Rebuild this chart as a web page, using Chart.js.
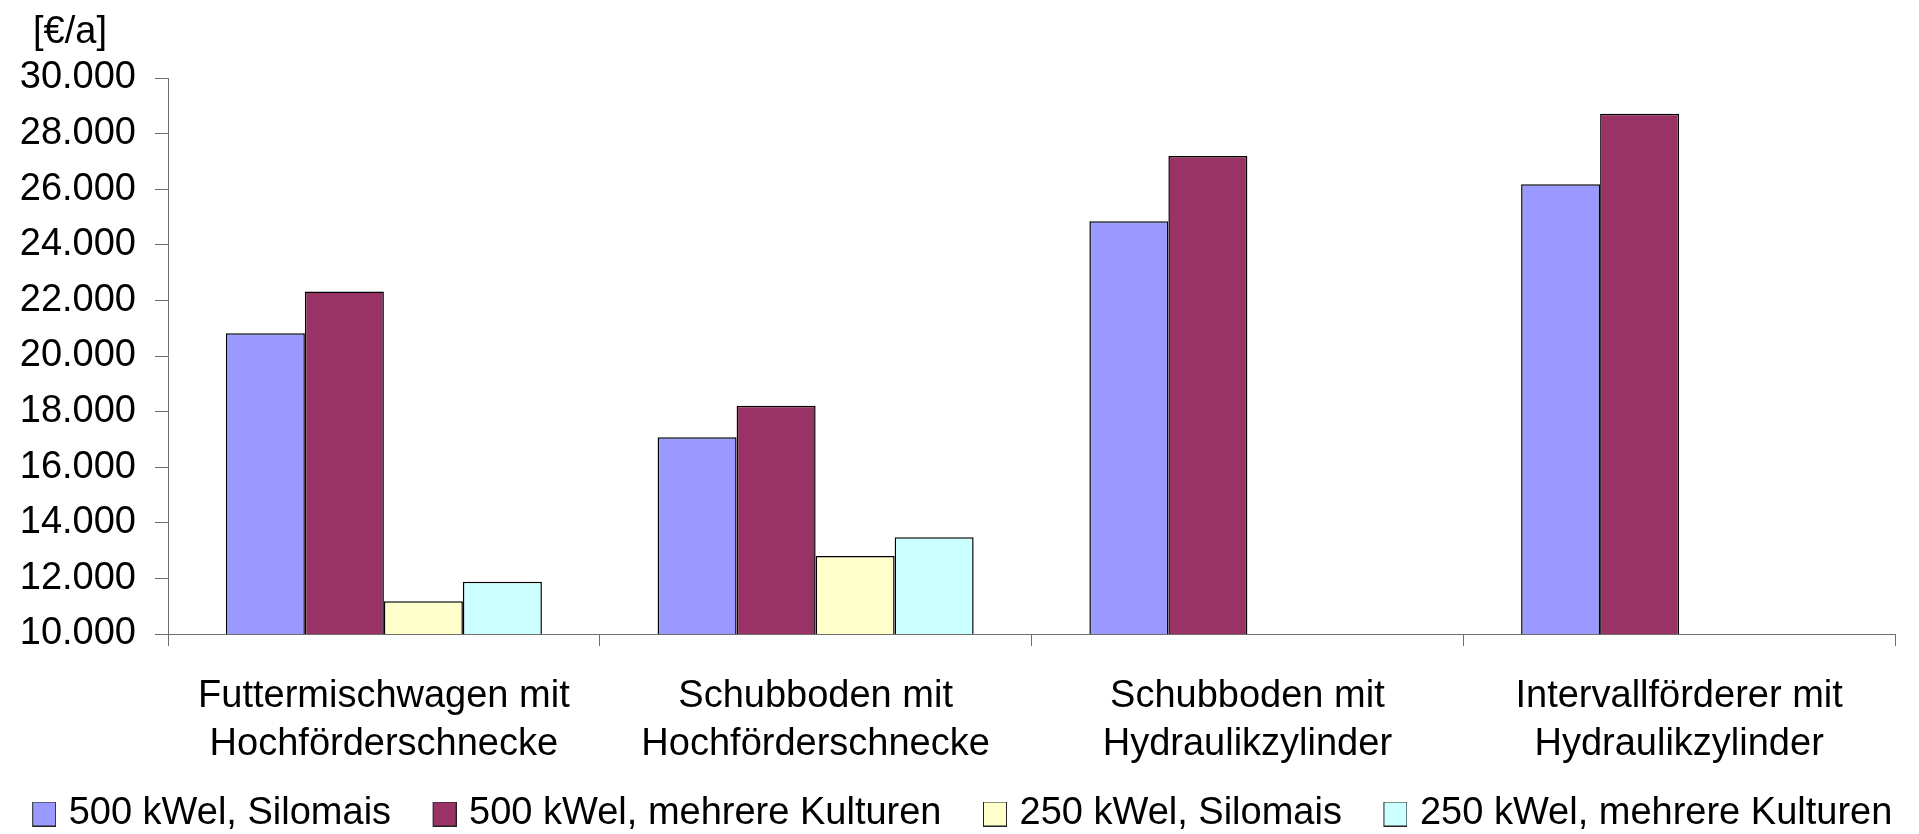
<!DOCTYPE html>
<html lang="de">
<head>
<meta charset="utf-8">
<title>Kosten der Beschickungssysteme</title>
<script src="https://cdn.jsdelivr.net/npm/chart.js@4/dist/chart.umd.min.js"></script>
<style>
  html, body { margin: 0; padding: 0; background: #ffffff; overflow: hidden; }
  #chart { display: block; }
</style>
</head>
<body>
<canvas id="chart" width="1919" height="834"></canvas>
<script>
// Beschickungssysteme (Kategorien, zweizeilig beschriftet)
const categories = [
  ['Futtermischwagen mit', 'Hochförderschnecke'],
  ['Schubboden mit', 'Hochförderschnecke'],
  ['Schubboden mit', 'Hydraulikzylinder'],
  ['Intervallförderer mit', 'Hydraulikzylinder']
];

// Jahreskosten in €/a je Anlagenvariante
const kwel500Silomais = [20820, 17080, 24850, 26180];
const kwel500Kulturen = [22320, 18210, 27190, 28710];
const kwel250Silomais = [11180, 12810, null, null];
const kwel250Kulturen = [11880, 13480, null, null];

const seriesNames = [
  '500 kWel, Silomais',
  '500 kWel, mehrere Kulturen',
  '250 kWel, Silomais',
  '250 kWel, mehrere Kulturen'
];
const seriesColors = ['#9999ff', '#993366', '#ffffcc', '#ccffff'];

// Werteachse
const yMin = 10000;
const yMax = 30000;
const yStep = 2000;
const yUnit = '[€/a]';

const FONT = '"Liberation Sans", Arial, sans-serif';
const AXIS_GREY = '#6e6e6e';

function formatDe(v) {
  return String(v).replace(/\B(?=(\d{3})+(?!\d))/g, '.');
}

// Legend symbols: a bordered square sitting at the right end of a
// transparent strip, so the square ends just before its label
function makeSwatch(color) {
  const c = document.createElement('canvas');
  c.width = 56; c.height = 25;
  const g = c.getContext('2d');
  g.fillStyle = color;
  g.fillRect(32.5, 0.5, 23, 24);
  g.strokeStyle = '#222';
  g.lineWidth = 1;
  g.strokeRect(32.5, 0.5, 23, 24);
  return c;
}
const swatches = seriesColors.map(makeSwatch);

// Unit label above the value axis
const unitLabel = {
  id: 'unitLabel',
  afterDraw(chart) {
    const ctx = chart.ctx;
    ctx.save();
    ctx.font = '38px ' + FONT;
    ctx.fillStyle = '#000';
    ctx.textAlign = 'left';
    ctx.textBaseline = 'alphabetic';
    ctx.fillText(yUnit, 33, 43);
    ctx.restore();
  }
};

const seriesValues = [kwel500Silomais, kwel500Kulturen, kwel250Silomais, kwel250Kulturen];

new Chart(document.getElementById('chart'), {
  type: 'bar',
  data: {
    labels: categories,
    datasets: seriesValues.map((vals, i) => ({
      label: seriesNames[i],
      data: vals,
      backgroundColor: seriesColors[i],
      borderColor: '#000',
      borderWidth: 1.5,
      yAxisID: 'y'
    }))
  },
  options: {
    responsive: false,
    devicePixelRatio: 1,
    animation: false,
    layout: { padding: { left: -20, right: 0, top: 78, bottom: -9 } },
    datasets: {
      bar: { categoryPercentage: 0.732, barPercentage: 1 }
    },
    scales: {
      x: {
        grid: {
          offset: true,
          drawOnChartArea: false,
          drawTicks: true,
          tickLength: 12,
          color: AXIS_GREY,
          lineWidth: 1
        },
        border: { color: AXIS_GREY, width: 1 },
        ticks: {
          color: '#000',
          font: { family: FONT, size: 38, lineHeight: 1.263 },
          padding: 26.5,
          maxRotation: 0,
          autoSkip: false
        },
        afterFit(scale) { scale.height = 145; }
      },
      y: {
        min: yMin,
        max: yMax,
        grid: {
          drawOnChartArea: false,
          drawTicks: true,
          tickLength: 13,
          color: AXIS_GREY,
          lineWidth: 1
        },
        border: { color: AXIS_GREY, width: 1 },
        ticks: {
          stepSize: yStep,
          color: '#000',
          font: { family: FONT, size: 38 },
          padding: 19,
          callback: (v) => formatDe(v)
        },
        afterFit(scale) { scale.width = 188; }
      },
      yRight: {
        position: 'right',
        display: true,
        grid: { display: false },
        border: { display: false },
        ticks: { display: false },
        afterFit(scale) { scale.width = 24; }
      }
    },
    plugins: {
      tooltip: { enabled: false },
      title: { display: false },
      legend: {
        position: 'bottom',
        labels: {
          usePointStyle: true,
          pointStyleWidth: 43,
          boxHeight: 24,
          padding: 16,
          color: '#000',
          font: { family: FONT, size: 38 },
          generateLabels(chart) {
            const items = Chart.defaults.plugins.legend.labels.generateLabels(chart);
            items.forEach((it, i) => { it.pointStyle = swatches[i]; });
            return items;
          }
        }
      }
    }
  },
  plugins: [unitLabel]
});
</script>
</body>
</html>
